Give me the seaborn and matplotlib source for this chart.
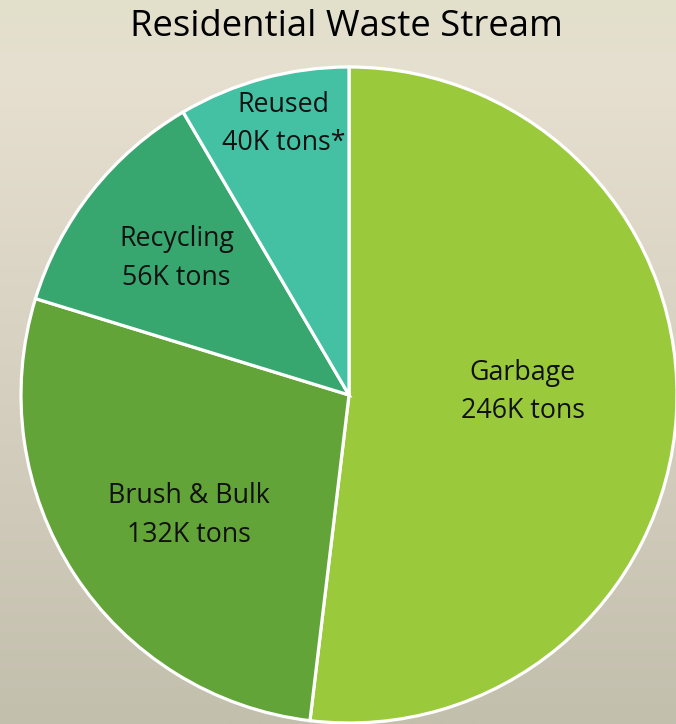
import numpy as np
import matplotlib
matplotlib.use('Agg')
import matplotlib.pyplot as plt
import seaborn as sns

categories = ['Garbage', 'Brush & Bulk', 'Recycling', 'Reused']
tons_k = [246, 132, 56, 40]
labels = ['Garbage\n246K tons', 'Brush & Bulk\n132K tons', 'Recycling\n56K tons', 'Reused\n40K tons*']
colors = ['#9ACA3C', '#62A438', '#37A76F', '#44C1A3']
# where each label sits inside its wedge: fraction of radius, angle nudge (deg)
label_dist = [0.53, 0.61, 0.67, 0.85]
label_turn = [4.4, 4.0, 0.0, -1.6]

sns.set_style('white')
plt.rcParams['font.family'] = ['Open Sans', 'DejaVu Sans']

W, H = 676, 724
fig = plt.figure(figsize=(W / 100, H / 100), dpi=100)

# background gradient
bg = fig.add_axes([0, 0, 1, 1])
stops = np.array([0.0, 0.12, 1.0])
cols = np.array([[0xE2, 0xE0, 0xCB], [0xE6, 0xDF, 0xD0], [0xC3, 0xBF, 0xAD]]) / 255
t = np.linspace(0, 1, 400)
grad = np.stack([np.interp(t, stops, cols[:, k]) for k in range(3)], axis=1)
bg.imshow(grad[:, None, :], aspect='auto', extent=[0, 1, 0, 1])
bg.axis('off')

ax = fig.add_axes([0, 0, 1, 1])
ax.set_aspect('equal')
ax.axis('off')

cx, cy, r = 349, H - 395, 328
wedges, _ = ax.pie(tons_k, colors=colors, startangle=90, counterclock=False,
                   center=(cx, cy), radius=r,
                   wedgeprops=dict(edgecolor='white', linewidth=2.3))
ax.set_xlim(0, W)
ax.set_ylim(0, H)

for w, lab, d, turn in zip(wedges, labels, label_dist, label_turn):
    ang = np.deg2rad((w.theta1 + w.theta2) / 2 + turn)
    ax.text(cx + d * r * np.cos(ang), cy + d * r * np.sin(ang), lab,
            ha='center', va='center', fontsize=19.3, color='#111111',
            linespacing=1.5)

fig.text(346.5 / W, 1 - 27 / H, 'Residential Waste Stream', ha='center', va='center',
         fontsize=26.3, color='black')

fig.savefig('out.png', dpi=100)
